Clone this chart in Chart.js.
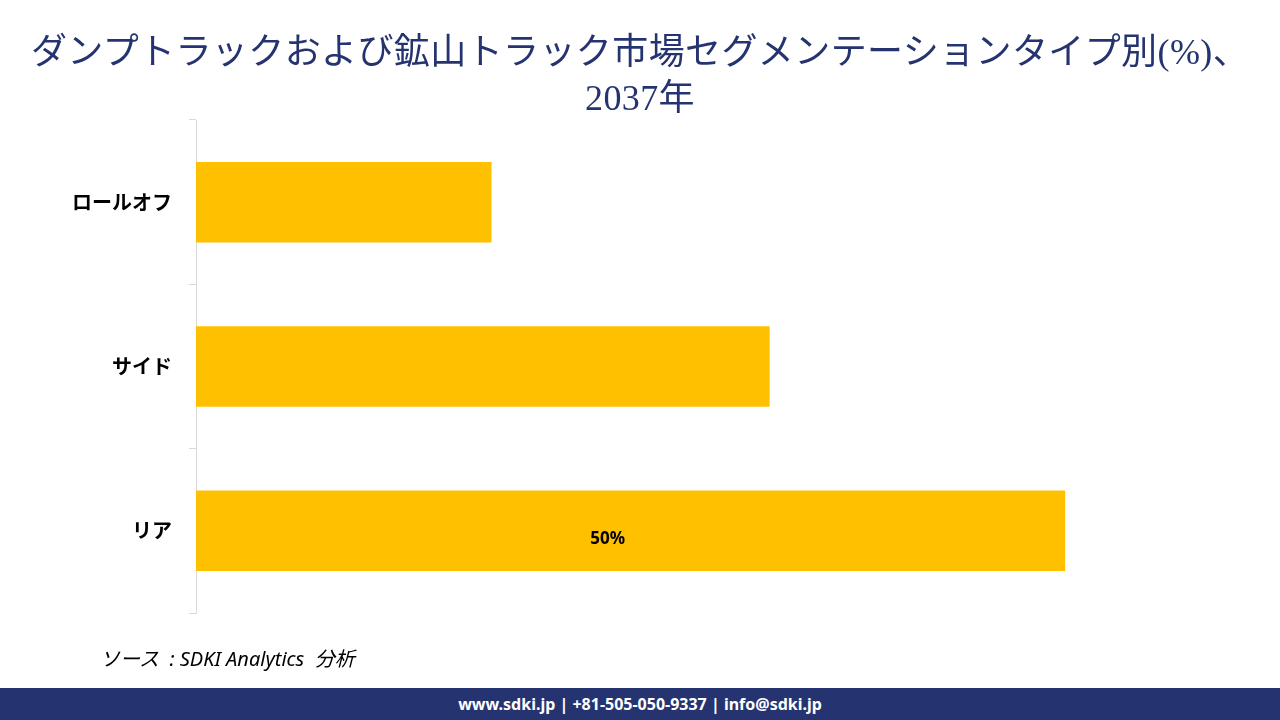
<!DOCTYPE html>
<html>
<head>
<meta charset="utf-8">
<script src="https://cdn.jsdelivr.net/npm/chart.js@4.4.0/dist/chart.umd.min.js"></script>
<style>
  html, body { margin: 0; padding: 0; background: #fff; }
  #wrap { position: relative; width: 1280px; height: 720px; overflow: hidden; }
  #title {
    position: absolute; left: 0; top: 29px; width: 1280px; text-align: center;
    font-family: "Liberation Serif", "DejaVu Serif", "Noto Sans CJK JP", serif;
    font-size: 36px; line-height: 46px; letter-spacing: 0.4px; color: #253470;
  }
  #chartBox { position: absolute; left: 0; top: 0; width: 1280px; height: 688px; }
  #source {
    position: absolute; left: 100px; top: 643px; white-space: pre;
    font-family: "Noto Sans", "Noto Sans CJK JP", sans-serif; font-style: italic;
    font-size: 20px; color: #000;
  }
  #footer {
    position: absolute; left: 0; top: 688px; width: 1280px; height: 32px;
    background: #253470; color: #fff; text-align: center;
    font-family: "Noto Sans", "Open Sans", sans-serif; font-weight: bold;
    font-size: 16px; line-height: 32px;
  }
</style>
</head>
<body>
<div id="wrap">
  <div id="chartBox"><canvas id="myBarChart" width="1280" height="688"></canvas></div>
  <div id="title">ダンプトラックおよび鉱山トラック市場セグメンテーションタイプ別(%)、<br>2037年</div>
  <div id="source">ソース  : SDKI Analytics  分析</div>
  <div id="footer">www.sdki.jp | +81-505-050-9337 | info@sdki.jp</div>
</div>
<script>
var categories = ['ロールオフ', 'サイド', 'リア'];
var shares = [17, 33, 50];
var shareLabels = ['', '', '50%'];

// label inside the bar, only where a text is given
var barText = {
    id: 'barText',
    afterDatasetsDraw: function (chart) {
        var ctx = chart.ctx;
        var meta = chart.getDatasetMeta(0);
        ctx.save();
        ctx.font = 'bold 17px "Noto Sans", sans-serif';
        ctx.fillStyle = '#000';
        ctx.textAlign = 'center';
        ctx.textBaseline = 'middle';
        meta.data.forEach(function (bar, i) {
            if (!shareLabels[i]) return;
            ctx.fillText(shareLabels[i], (bar.x + bar.base) / 2 - 23, bar.y + 8);
        });
        ctx.restore();
    }
};

var barChart = new Chart(document.getElementById('myBarChart').getContext('2d'), {
    type: 'bar',
    data: {
        labels: categories,
        datasets: [{
            data: shares,
            backgroundColor: '#FFC000',
            borderWidth: 0,
            barPercentage: 0.49,
            categoryPercentage: 1
        }]
    },
    options: {
        indexAxis: 'y',
        responsive: false,
        animation: false,
        devicePixelRatio: 1,
        layout: { padding: { top: 120, bottom: 75, left: 0, right: 41 } },
        plugins: {
            legend: { display: false },
            tooltip: { enabled: false }
        },
        scales: {
            x: { display: false, min: 0, max: 60 },
            y: {
                afterFit: function (scale) { scale.width = 196; },
                grid: {
                    drawOnChartArea: false,
                    drawTicks: true,
                    tickLength: 7,
                    color: '#d9d9d9',
                    offset: true
                },
                border: { color: '#d9d9d9', width: 1 },
                ticks: {
                    padding: 17,
                    color: '#000',
                    font: { family: '"Noto Sans CJK JP", sans-serif', size: 20, weight: 'bold' }
                }
            }
        }
    },
    plugins: [barText]
});
</script>
</body>
</html>
